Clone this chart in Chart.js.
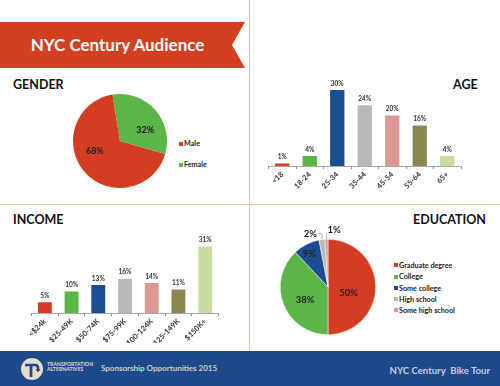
<!DOCTYPE html>
<html><head><meta charset="utf-8">
<script src="https://cdn.jsdelivr.net/npm/chart.js@4"></script>
<style>
html,body{margin:0;padding:0;background:#fff;}
body{width:500px;height:386px;position:relative;overflow:hidden;font-family:Lato,'Open Sans',sans-serif;}
.abs{position:absolute;}
canvas{position:absolute;}
#banner{left:0;top:22px;width:245px;height:46px;background:#d3401f;clip-path:polygon(0 0,100% 0,232px 50%,100% 100%,0 100%);}
#bannerText{left:0;top:22px;width:235px;height:46px;line-height:46px;text-align:center;color:#fff;font-size:17px;font-weight:700;white-space:nowrap;}
.vline{left:249px;top:0;width:1px;height:351px;background:#f0bcae;}
.hline{left:0;top:204px;width:500px;height:1px;background:#f0bcae;}
.sec{font-size:12.5px;font-weight:700;color:#111;line-height:14px;height:14px;white-space:nowrap;}
#footer{left:0;top:351px;width:500px;height:35px;background:#1c4a8d;}
.lg{font-size:7.2px;font-weight:700;color:#222;line-height:9px;white-space:nowrap;}
.sw{position:absolute;width:4px;height:4px;}
</style>
</head><body>
<div class="abs vline"></div>
<div class="abs hline"></div>
<div class="abs" id="banner"></div>
<div class="abs" id="bannerText">NYC Century Audience</div>
<div class="abs sec" style="left:13px;top:78px;">GENDER</div>
<div class="abs sec" style="left:453px;top:78px;">AGE</div>
<div class="abs sec" style="left:13px;top:213px;">INCOME</div>
<div class="abs sec" style="left:413px;top:213px;">EDUCATION</div>

<canvas id="gender" width="94" height="94" style="left:73px;top:94px;width:94px;height:94px;"></canvas>
<canvas id="age" width="250" height="142" style="left:250px;top:60px;width:250px;height:142px;"></canvas>
<canvas id="income" width="249" height="125" style="left:0px;top:225px;width:249px;height:125px;"></canvas>
<canvas id="education" width="130" height="130" style="left:263px;top:222px;width:130px;height:130px;"></canvas>
<div id="genderLegend"></div>
<div id="educationLegend"></div>

<div class="abs" id="footer"></div>
<svg class="abs" style="left:21px;top:358px;" width="22" height="22" viewBox="-11 -11 22 22">
  <circle cx="0" cy="0" r="11" fill="#e7dcc8"/>
  <path d="M-7,-4 H3 Q6,-4 6,-1 V1" stroke="#1c4a8d" stroke-width="2.6" fill="none"/>
  <path d="M3.5,0 L8.5,0 L6,3.5 Z" fill="#1c4a8d"/>
  <path d="M-1,-4 V8" stroke="#1c4a8d" stroke-width="2.8" fill="none"/>
</svg>
<div class="abs" style="left:47px;top:362px;font-size:5px;font-weight:700;color:#e7dcc8;line-height:5px;letter-spacing:0.1px;">TRANSPORTATION<br>ALTERNATIVES</div>
<div class="abs" style="left:101px;top:363px;font-size:8px;font-weight:700;color:#d8cbb2;line-height:10px;white-space:nowrap;">Sponsorship Opportunities 2015</div>
<div class="abs" style="right:10px;top:365px;font-size:9.6px;font-weight:700;color:#c6cee0;line-height:12px;white-space:nowrap;">NYC Century&nbsp; Bike Tour</div>

<script>
// ---- data ----
const genderLabels = ['Male', 'Female'];
const genderValues = [68, 32];
const ageLabels = ['<18', '18-24', '25-34', '35-44', '45-54', '55-64', '65+'];
const ageValues = [1, 4, 30, 24, 20, 16, 4];
const incomeLabels = ['<$24k', '$25-49K', '$50-74K', '$75-99K', '$100-124K', '$125-149K', '$150K+'];
const incomeValues = [5, 10, 13, 16, 14, 11, 31];
const educationLabels = ['Graduate degree', 'College', 'Some college', 'High school', 'Some high school'];
const educationValues = [50, 38, 9, 2, 1];

// ---- styles ----
const palette = ['#d43d21', '#5cb547', '#1b4d92', '#b8b8b8', '#dc9895', '#8e8752', '#c8dca0'];

const valueLabels = {
  id: 'valueLabels',
  afterDatasetsDraw(chart, args, opts) {
    const ctx = chart.ctx;
    const meta = chart.getDatasetMeta(0);
    const data = chart.data.datasets[0].data;
    ctx.save();
    ctx.fillStyle = opts.color || '#222';
    ctx.font = opts.font;
    let outsideCount = 0;
    meta.data.forEach((el, i) => {
      const txt = data[i] + '%';
      if (chart.config.type === 'bar') {
        ctx.textAlign = 'center'; ctx.textBaseline = 'bottom';
        ctx.fillText(txt, el.x, el.y - opts.gap);
      } else {
        const p = el.getProps(['x', 'y', 'startAngle', 'endAngle', 'outerRadius'], true);
        const off = (opts.offsets ? (opts.offsets[i] || 0) : (opts.angleOffset || 0)) * Math.PI / 180;
        const mid = (p.startAngle + p.endAngle) / 2;
        if (opts.outsideBelow && data[i] < opts.outsideBelow) {
          const ex = p.x + Math.cos(mid) * p.outerRadius;
          const ey = p.y + Math.sin(mid) * p.outerRadius;
          const ty = ey - 6;
          ctx.strokeStyle = '#999'; ctx.lineWidth = 0.8;
          ctx.beginPath(); ctx.moveTo(ex, ey); ctx.lineTo(ex, ty);
          if (outsideCount === 0) {
            ctx.lineTo(ex - 4, ty); ctx.stroke();
            ctx.textAlign = 'right'; ctx.textBaseline = 'middle';
            ctx.fillText(txt, ex - 5, ty);
          } else {
            ctx.stroke();
            ctx.textAlign = 'left'; ctx.textBaseline = 'middle';
            ctx.fillText(txt, ex + 1, ty - 3);
          }
          outsideCount++;
        } else {
          const f = opts.fractions ? opts.fractions[i] : opts.fraction;
          const a = mid + off;
          ctx.textAlign = 'center'; ctx.textBaseline = 'middle';
          ctx.fillText(txt, p.x + Math.cos(a) * p.outerRadius * f, p.y + Math.sin(a) * p.outerRadius * f);
        }
      }
    });
    ctx.restore();
  }
};

function barChart(id, labels, values, max, pad) {
  return new Chart(document.getElementById(id), {
    type: 'bar',
    data: { labels: labels, datasets: [{ data: values, backgroundColor: palette, borderWidth: 0, categoryPercentage: 1, barPercentage: 0.52 }] },
    options: {
      responsive: false, animation: false,
      layout: { padding: pad },
      plugins: { legend: { display: false }, tooltip: { enabled: false },
        valueLabels: { font: 'bold 6.5px Lato', color: '#333', gap: 3 } },
      scales: {
        y: { display: false, min: 0, max: max },
        x: {
          grid: { display: true, drawOnChartArea: false, drawTicks: true, tickLength: 3, color: '#888', offset: true },
          border: { display: true, color: '#aaa' },
          ticks: { autoSkip: false, minRotation: 45, maxRotation: 45, padding: 1, color: '#333',
            font: { family: 'Lato', size: 7.5, weight: 'bold' } },
          afterFit(s) { s.height = 30; s.paddingLeft = 0; s.paddingRight = 0; }
        }
      }
    },
    plugins: [valueLabels]
  });
}

function pieChart(id, labels, values, rotation, pad, labelOpts, border) {
  return new Chart(document.getElementById(id), {
    type: 'pie',
    data: { labels: labels, datasets: [{ data: values, backgroundColor: palette.slice(0, values.length), borderWidth: border, borderColor: '#fff' }] },
    options: {
      responsive: false, animation: false, rotation: rotation,
      layout: { padding: pad },
      plugins: { legend: { display: false }, tooltip: { enabled: false }, valueLabels: labelOpts }
    },
    plugins: [valueLabels]
  });
}

pieChart('gender', genderLabels, genderValues, 106, 0,
  { font: 'bold 9px Lato', color: '#222', fraction: 0.58, angleOffset: 19 }, 0);
pieChart('education', educationLabels, educationValues, 0, 17,
  { font: 'bold 9.5px Lato', color: '#222', fractions: [0.45, 0.55, 0.8], offsets: [15, -8, -2], outsideBelow: 5 }, 0.5);
barChart('age', ageLabels, ageValues, 34, { left: 18.5, right: 39, top: 20, bottom: 6 });
barChart('income', incomeLabels, incomeValues, 34, { left: 31.5, right: 30.5, top: 15, bottom: 7 });

function legend(elId, labels, left, tops) {
  const host = document.getElementById(elId);
  labels.forEach((lab, i) => {
    const sw = document.createElement('div');
    sw.className = 'sw';
    sw.style.left = left + 'px';
    sw.style.top = (tops[i] - 2) + 'px';
    sw.style.background = palette[i];
    host.appendChild(sw);
    const t = document.createElement('div');
    t.className = 'abs lg';
    t.style.left = (left + 5) + 'px';
    t.style.top = (tops[i] - 4.5) + 'px';
    t.textContent = lab;
    host.appendChild(t);
  });
}
legend('genderLegend', genderLabels, 179, [143.5, 164.5]);
legend('educationLegend', educationLabels, 394, [265, 276.5, 288, 299, 310]);
</script>
</body></html>
